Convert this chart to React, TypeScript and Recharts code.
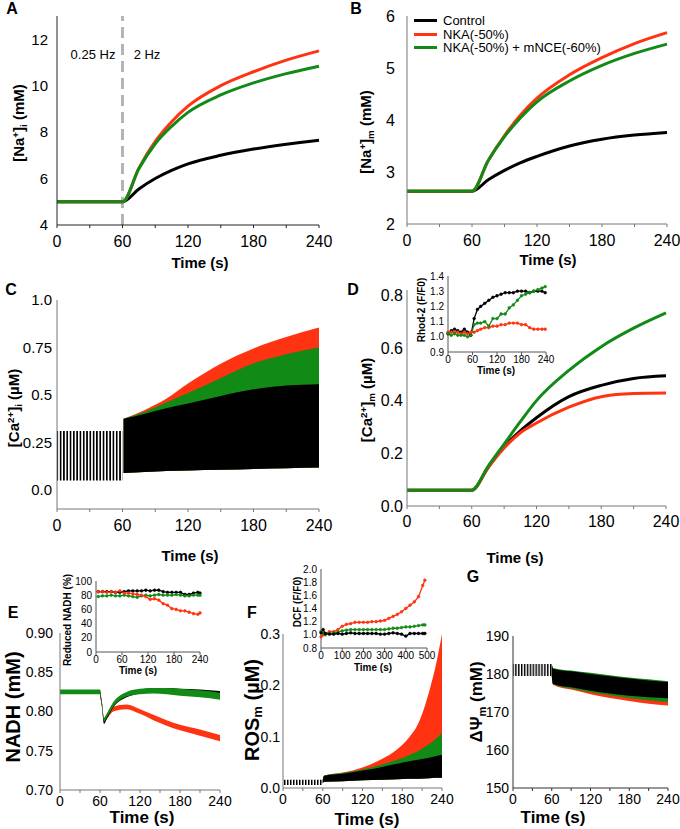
import React from 'react';
import { ComposedChart, Line, Area, XAxis, YAxis, ReferenceLine } from 'recharts';

const FONT = 'Arial, "Liberation Sans", Helvetica, sans-serif';
const BLACK = '#000000';
const RED = '#ff3311';
const GREEN = '#128a16';
const AXIS = '#777777';

// ---- A: [Na+]i ----
const naTime = [0, 60, 75, 90, 105, 120, 150, 180, 210, 240];
const naiControl = [5, 5, 5.55, 6.0, 6.35, 6.63, 7.0, 7.27, 7.48, 7.65];
const naiNka = [5, 5, 6.45, 7.6, 8.45, 9.12, 10.0, 10.6, 11.1, 11.5];
const naiNkaNce = [5, 5, 6.42, 7.5, 8.25, 8.85, 9.6, 10.12, 10.52, 10.84];

// ---- B: [Na+]m ----
const namControl = [2.63, 2.63, 2.85, 3.03, 3.18, 3.3, 3.5, 3.63, 3.71, 3.76];
const namNka = [2.63, 2.63, 3.22, 3.7, 4.1, 4.42, 4.87, 5.2, 5.47, 5.68];
const namNkaNce = [2.63, 2.63, 3.22, 3.68, 4.05, 4.35, 4.75, 5.05, 5.28, 5.46];

// ---- C: [Ca2+]i (envelopes of the beating trace) ----
const caiPreTime = [0, 60];
const caiPre: [number, number] = [0.05, 0.31];
const caiTime = [61, 80, 100, 120, 150, 180, 210, 240];
const caiBlackLo = [0.09, 0.095, 0.1, 0.103, 0.107, 0.111, 0.115, 0.118];
const caiBlackHi = [0.375, 0.4, 0.43, 0.455, 0.495, 0.53, 0.55, 0.557];
const caiGreenHi = [0.375, 0.41, 0.46, 0.51, 0.59, 0.667, 0.715, 0.75];
const caiRedHi = [0.375, 0.42, 0.48, 0.56, 0.665, 0.745, 0.805, 0.855];
const caiTicks = [0, 0.25, 0.5, 0.75, 1.0];
const caiTickLabels = ['0.0', '0.25', '0.5', '0.75', '1.0'];

// ---- D: [Ca2+]m ----
const camControl = [0.06, 0.06, 0.145, 0.225, 0.285, 0.335, 0.415, 0.458, 0.484, 0.494];
const camNka = [0.06, 0.06, 0.145, 0.22, 0.278, 0.315, 0.375, 0.415, 0.427, 0.429];
const camNkaNce = [0.06, 0.06, 0.15, 0.235, 0.32, 0.4, 0.515, 0.605, 0.675, 0.733];

// D inset: Rhod-2
const rhodTime = [0, 8, 16, 24, 32, 40, 48, 56, 64, 72, 80, 90, 100, 110, 120, 130, 140, 150, 160, 170, 180, 190, 200, 210, 220, 230, 238];
const rhodControl = [1.02, 1.04, 1.05, 1.04, 1.03, 1.05, 1.03, 1.01, 1.12, 1.18, 1.2, 1.22, 1.24, 1.26, 1.27, 1.28, 1.29, 1.29, 1.29, 1.3, 1.3, 1.3, 1.29, 1.3, 1.3, 1.3, 1.29];
const rhodNka = [1.03, 1.03, 1.03, 1.03, 1.02, 1.03, 1.02, 1.03, 1.03, 1.04, 1.05, 1.06, 1.06, 1.07, 1.07, 1.08, 1.08, 1.09, 1.09, 1.09, 1.08, 1.08, 1.06, 1.05, 1.05, 1.05, 1.05];
const rhodNkaNce = [1.02, 1.01, 1.02, 1.01, 1.01, 1.01, 1.0, 1.01, 1.08, 1.09, 1.09, 1.1, 1.07, 1.12, 1.12, 1.15, 1.15, 1.19, 1.21, 1.24, 1.27, 1.28, 1.29, 1.3, 1.31, 1.32, 1.33];

// ---- E: NADH ----
const nadhPre: [number, number] = [0.822, 0.828];
const nadhTime = [60, 63, 66, 70, 80, 100, 120, 140, 160, 180, 210, 240];
const nadhBlackLo = [0.822, 0.805, 0.784, 0.79, 0.805, 0.818, 0.823, 0.825, 0.825, 0.824, 0.823, 0.821];
const nadhBlackHi = [0.828, 0.81, 0.79, 0.796, 0.811, 0.824, 0.828, 0.83, 0.83, 0.829, 0.828, 0.826];
const nadhGreenLo = [0.822, 0.806, 0.787, 0.792, 0.806, 0.819, 0.822, 0.823, 0.822, 0.82, 0.818, 0.815];
const nadhGreenHi = [0.828, 0.811, 0.792, 0.797, 0.812, 0.825, 0.829, 0.83, 0.83, 0.829, 0.827, 0.824];
const nadhRedLo = [0.822, 0.806, 0.786, 0.79, 0.8, 0.803, 0.797, 0.789, 0.782, 0.776, 0.769, 0.762];
const nadhRedHi = [0.828, 0.811, 0.791, 0.796, 0.806, 0.809, 0.803, 0.796, 0.789, 0.783, 0.777, 0.77];

// E inset: reduced NADH (%)
const rnTime = [5, 15, 25, 35, 45, 55, 65, 75, 85, 95, 105, 115, 125, 135, 145, 155, 165, 175, 185, 195, 205, 215, 225, 235, 240];
const rnControl = [85, 85, 85, 85, 84, 84, 85, 86, 86, 86, 86, 87, 86, 87, 87, 85, 84, 84, 84, 84, 81, 81, 83, 84, 83];
const rnNka = [85, 85, 84, 85, 84, 86, 83, 83, 82, 81, 80, 78, 74, 75, 73, 68, 66, 61, 60, 58, 58, 56, 54, 53, 55];
const rnNkaNce = [78, 79, 79, 80, 79, 79, 80, 79, 78, 77, 79, 80, 79, 80, 81, 80, 80, 80, 81, 80, 79, 79, 80, 80, 80];

// ---- F: ROSm ----
const rosPre: [number, number] = [0.006, 0.016];
const rosTime = [60, 62, 90, 120, 150, 172, 190, 204, 220, 230, 240];
const rosBlackLo = [0.009, 0.012, 0.013, 0.015, 0.016, 0.017, 0.018, 0.018, 0.019, 0.02, 0.02];
const rosBlackHi = [0.016, 0.024, 0.028, 0.034, 0.041, 0.047, 0.052, 0.055, 0.059, 0.062, 0.065];
const rosGreenHi = [0.016, 0.024, 0.029, 0.036, 0.046, 0.055, 0.064, 0.072, 0.085, 0.095, 0.107];
const rosRedHi = [0.016, 0.024, 0.03, 0.04, 0.057, 0.075, 0.098, 0.125, 0.185, 0.235, 0.3];

// F inset: DCF
const dcfTime = [0, 10, 20, 40, 60, 80, 100, 120, 140, 160, 180, 200, 220, 240, 260, 280, 300, 320, 340, 360, 380, 400, 420, 440, 460, 480, 490];
const dcfControl = [1.03, 1.08, 1.02, 1.01, 1.01, 1.02, 1.01, 1.02, 1.03, 1.02, 1.02, 1.02, 1.02, 1.02, 1.02, 1.01, 1.01, 1.02, 1.03, 1.02, 1.01, 0.98, 1.02, 1.02, 1.02, 1.02, 1.02];
const dcfNka = [0.97, 1.0, 1.02, 1.05, 1.05, 1.08, 1.13, 1.16, 1.17, 1.19, 1.19, 1.19, 1.19, 1.2, 1.2, 1.21, 1.22, 1.25, 1.28, 1.31, 1.35, 1.4, 1.45, 1.5, 1.58, 1.75, 1.83];
const dcfNkaNce = [1.05, 1.03, 1.0, 1.02, 1.03, 1.04, 1.06, 1.07, 1.08, 1.08, 1.08, 1.08, 1.08, 1.08, 1.08, 1.08, 1.08, 1.09, 1.1, 1.1, 1.11, 1.12, 1.12, 1.13, 1.14, 1.15, 1.15];

// ---- G: ΔΨm ----
const psiPre: [number, number] = [179.5, 182.6];
const psiTime = [60, 62, 90, 120, 150, 180, 210, 240];
const psiBlackLo = [179.5, 177.4, 176.5, 175.6, 174.9, 174.3, 173.9, 173.6];
const psiBlackHi = [182.6, 181.4, 180.7, 180.0, 179.4, 178.8, 178.3, 177.9];
const psiGreenLo = [179.5, 177.3, 176.2, 175.2, 174.4, 173.7, 173.1, 172.6];
const psiGreenHi = [182.6, 181.6, 180.9, 180.3, 179.7, 179.1, 178.6, 178.1];
const psiRedLo = [179.5, 177.2, 175.9, 174.7, 173.7, 172.9, 172.2, 171.7];

const legendItems = [
  { name: 'Control', color: BLACK },
  { name: 'NKA(-50%)', color: RED },
  { name: 'NKA(-50%) + mNCE(-60%)', color: GREEN },
];

const timeTicks = [0, 30, 60, 90, 120, 150, 180, 210, 240];

const lineRows = (t: number[], a: number[], b: number[], c: number[]) =>
  t.map((v, i) => ({ t: v, black: a[i], red: b[i], green: c[i] }));

const preRows = (pre: [number, number]) => [0, 60].map((t) => ({ t, pre }));

const naiData = lineRows(naTime, naiControl, naiNka, naiNkaNce);
const namData = lineRows(naTime, namControl, namNka, namNkaNce);
const camData = lineRows(naTime, camControl, camNka, camNkaNce);
const rhodData = lineRows(rhodTime, rhodControl, rhodNka, rhodNkaNce);
const rnData = lineRows(rnTime, rnControl, rnNka, rnNkaNce);
const dcfData = lineRows(dcfTime, dcfControl, dcfNka, dcfNkaNce);

const caiData = [
  ...caiPreTime.map((t) => ({ t, pre: caiPre })),
  ...caiTime.map((t, i) => ({
    t,
    black: [caiBlackLo[i], caiBlackHi[i]],
    green: [caiBlackLo[i], caiGreenHi[i]],
    red: [caiBlackLo[i], caiRedHi[i]],
  })),
];

const nadhData = [
  ...preRows(nadhPre),
  ...nadhTime.map((t, i) => ({
    t,
    black: [nadhBlackLo[i], nadhBlackHi[i]],
    green: [nadhGreenLo[i], nadhGreenHi[i]],
    red: [nadhRedLo[i], nadhRedHi[i]],
  })),
];

const rosData = [
  ...preRows(rosPre),
  ...rosTime.map((t, i) => ({
    t,
    black: [rosBlackLo[i], rosBlackHi[i]],
    green: [rosBlackLo[i], rosGreenHi[i]],
    red: [rosBlackLo[i], rosRedHi[i]],
  })),
];

const psiData = [
  ...preRows(psiPre),
  ...psiTime.map((t, i) => ({
    t,
    black: [psiBlackLo[i], psiBlackHi[i]],
    green: [psiGreenLo[i], psiGreenHi[i]],
    red: [psiRedLo[i], psiBlackHi[i]],
  })),
];

const TOP = 10;
const RIGHT = 26;

type FrameProps = { x: number; y: number; w: number; h: number; yw: number; xh: number; data: any[]; right?: number; top?: number; children: React.ReactNode };

// places a chart so that its plot area lands exactly at (x, y, w, h)
function Frame({ x, y, w, h, yw, xh, data, right = RIGHT, top = TOP, children }: FrameProps) {
  return (
    <div style={{ position: 'absolute', left: x - yw, top: y - top }}>
      <ComposedChart width={w + yw + right} height={h + top + xh} data={data} margin={{ top, right, bottom: 0, left: 0 }}>
        {children}
      </ComposedChart>
    </div>
  );
}

const xAxis = (xh: number, size: number, gap: number, color: string, ticks = timeTicks, major = 60, max = 240) => (
  <XAxis
    type="number"
    dataKey="t"
    domain={[0, max]}
    ticks={ticks}
    interval={0}
    tickFormatter={(v: number) => (v % major === 0 ? String(v) : '')}
    tick={{ fill: '#000', fontSize: size, fontFamily: FONT }}
    axisLine={{ stroke: color }}
    tickLine={{ stroke: color }}
    tickSize={3}
    tickMargin={gap}
    height={xh}
  />
);

const fixed = (digits: number) => (v: number) => v.toFixed(digits);

const yAxis = (yw: number, domain: number[], ticks: number[], size: number, gap: number, color: string, fmt: (v: number) => string) => (
  <YAxis
    type="number"
    domain={domain}
    ticks={ticks}
    interval={0}
    allowDataOverflow
    tickFormatter={fmt}
    tick={{ fill: '#000', fontSize: size, fontFamily: FONT }}
    axisLine={{ stroke: color }}
    tickLine={false}
    tickSize={3}
    tickMargin={gap}
    width={yw}
  />
);

const line = (key: string, color: string, width: number, dots = false) => (
  <Line
    dataKey={key}
    stroke={color}
    strokeWidth={width}
    type={dots ? 'linear' : 'monotone'}
    dot={dots ? { r: 1.4, fill: color, stroke: color, strokeWidth: 0.5 } : false}
    activeDot={false}
    isAnimationActive={false}
  />
);

const band = (key: string, fill: string, type: 'monotone' | 'linear' = 'monotone') => (
  <Area dataKey={key} fill={fill} fillOpacity={1} stroke="none" type={type} dot={false} activeDot={false} isAnimationActive={false} />
);

const stripes = (id: string, period: number) => (
  <defs>
    <pattern id={id} width={period} height={10} patternUnits="userSpaceOnUse">
      <rect x={0} y={0} width={period * 0.5} height={10} fill="#000" />
    </pattern>
  </defs>
);

type TxtProps = { x: number; y: number; size: number; bold?: boolean; rotate?: boolean; children: React.ReactNode };

function Txt({ x, y, size, bold = true, rotate = false, children }: TxtProps) {
  return (
    <div
      style={{
        position: 'absolute',
        left: x,
        top: y,
        transform: `translate(-50%, -50%)${rotate ? ' rotate(-90deg)' : ''}`,
        whiteSpace: 'nowrap',
        fontFamily: FONT,
        fontSize: size,
        fontWeight: bold ? 700 : 400,
        lineHeight: 1,
        color: '#000',
      }}
    >
      {children}
    </div>
  );
}

const supS: React.CSSProperties = { fontSize: '0.65em', verticalAlign: '0.5em' };
const subS: React.CSSProperties = { fontSize: '0.65em', verticalAlign: '-0.3em' };

export default function App() {
  return (
    <div style={{ position: 'fixed', left: 0, top: 0, width: 680, height: 829, background: '#fff', overflow: 'hidden' }}>
      {/* A */}
      <Frame x={57} y={16} w={262} h={209} yw={50} xh={40} data={naiData}>
        {xAxis(40, 16, 8, '#222')}
        {yAxis(50, [4, 13], [4, 6, 8, 10, 12], 15, 6, '#222', fixed(0))}
        <ReferenceLine x={60} stroke="#b4b4b4" strokeWidth={3} strokeDasharray="11 6" />
        {line('black', BLACK, 3)}
        {line('red', RED, 3)}
        {line('green', GREEN, 3)}
      </Frame>

      {/* B */}
      <Frame x={407} y={16} w={260} h={208} yw={50} xh={40} data={namData}>
        {xAxis(40, 16, 8, AXIS)}
        {yAxis(50, [2, 6], [2, 3, 4, 5, 6], 16, 9, AXIS, fixed(0))}
        {line('black', BLACK, 3)}
        {line('red', RED, 3)}
        {line('green', GREEN, 3)}
      </Frame>

      {/* C */}
      <Frame x={57} y={300} w={262} h={209} yw={50} xh={40} data={caiData}>
        {stripes('stripesC', 3.3)}
        {xAxis(40, 16, 8, AXIS)}
        {yAxis(50, [-0.1, 1.0], caiTicks, 15, 2, AXIS, (v) => caiTickLabels[caiTicks.indexOf(v)] ?? String(v))}
        {band('pre', 'url(#stripesC)', 'linear')}
        {band('red', RED)}
        {band('green', GREEN)}
        {band('black', BLACK)}
      </Frame>

      {/* D */}
      <Frame x={407} y={290} w={259} h={216} yw={50} xh={40} data={camData}>
        {xAxis(40, 16, 7, AXIS)}
        {yAxis(50, [0, 0.82], [0, 0.2, 0.4, 0.6, 0.8], 16, 1, AXIS, fixed(1))}
        {line('black', BLACK, 3)}
        {line('red', RED, 3)}
        {line('green', GREEN, 3)}
      </Frame>

      {/* D inset */}
      <Frame x={448} y={276} w={98} h={76} yw={24} xh={16} right={12} top={6} data={rhodData}>
        {xAxis(16, 10, 1, '#555', [0, 60, 120, 180, 240])}
        {yAxis(24, [0.9, 1.4], [0.9, 1.0, 1.1, 1.2, 1.3, 1.4], 10, 1, '#555', fixed(1))}
        {line('black', BLACK, 1.3, true)}
        {line('red', RED, 1.3, true)}
        {line('green', GREEN, 1.3, true)}
      </Frame>

      {/* E */}
      <Frame x={60} y={633} w={160} h={157} yw={50} xh={26} data={nadhData}>
        {xAxis(26, 14, 3, AXIS)}
        {yAxis(50, [0.7, 0.9], [0.7, 0.75, 0.8, 0.85, 0.9], 14, 4, AXIS, fixed(2))}
        {band('pre', GREEN, 'linear')}
        {band('red', RED)}
        {band('black', BLACK)}
        {band('green', GREEN)}
      </Frame>

      {/* E inset */}
      <Frame x={96} y={581} w={104} h={71} yw={24} xh={16} right={12} top={6} data={rnData}>
        {xAxis(16, 10, 1, '#555', [0, 60, 120, 180, 240])}
        {yAxis(24, [0, 100], [0, 20, 40, 60, 80, 100], 10, 1, '#555', fixed(0))}
        {line('black', BLACK, 1.3, true)}
        {line('green', GREEN, 1.3, true)}
        {line('red', RED, 1.3, true)}
      </Frame>

      {/* F */}
      <Frame x={283} y={634} w={159} h={154} yw={50} xh={26} data={rosData}>
        {stripes('stripesF', 3)}
        {xAxis(26, 14, 3, AXIS)}
        {yAxis(50, [0, 0.3], [0, 0.1, 0.2, 0.3], 14, 0, AXIS, fixed(1))}
        {band('pre', 'url(#stripesF)', 'linear')}
        {band('red', RED)}
        {band('green', GREEN)}
        {band('black', BLACK)}
      </Frame>

      {/* F inset */}
      <Frame x={321} y={569} w={106} h={79} yw={24} xh={16} right={12} top={6} data={dcfData}>
        {xAxis(16, 10, 1, '#555', [0, 100, 200, 300, 400, 500], 100, 500)}
        {yAxis(24, [0.8, 2.0], [0.8, 1.0, 1.2, 1.4, 1.6, 1.8, 2.0], 10, 1, '#555', fixed(1))}
        {line('red', RED, 1.3, true)}
        {line('green', GREEN, 1.3, true)}
        {line('black', BLACK, 1.3, true)}
      </Frame>

      {/* G */}
      <Frame x={513} y={636} w={155} h={152} yw={50} xh={26} data={psiData}>
        {stripes('stripesG', 2.9)}
        {xAxis(26, 14, 3, '#333')}
        {yAxis(50, [150, 190], [150, 160, 170, 180, 190], 14, 1, '#333', fixed(0))}
        {band('pre', 'url(#stripesG)', 'linear')}
        {band('red', RED)}
        {band('green', GREEN)}
        {band('black', BLACK)}
      </Frame>

      {/* panel letters */}
      <Txt x={12} y={9} size={16}>A</Txt>
      <Txt x={356} y={9} size={16}>B</Txt>
      <Txt x={11} y={290} size={16}>C</Txt>
      <Txt x={353} y={290} size={16}>D</Txt>
      <Txt x={13} y={613} size={16}>E</Txt>
      <Txt x={252} y={613} size={16}>F</Txt>
      <Txt x={473} y={577} size={16}>G</Txt>

      {/* A annotations */}
      <Txt x={93} y={54} size={13} bold={false}>0.25 Hz</Txt>
      <Txt x={147} y={54} size={13} bold={false}>2 Hz</Txt>

      {/* B legend */}
      <div style={{ position: 'absolute', left: 414, top: 14, fontFamily: FONT, fontSize: 13 }}>
        {legendItems.map((it) => (
          <div key={it.name} style={{ display: 'flex', alignItems: 'center', height: 13.5 }}>
            <span style={{ display: 'inline-block', width: 23, height: 3, background: it.color, marginRight: 6 }} />
            <span>{it.name}</span>
          </div>
        ))}
      </div>

      {/* y-axis titles */}
      <Txt x={20} y={123} size={15} rotate>[Na<span style={supS}>+</span>]<span style={subS}>i</span> (mM)</Txt>
      <Txt x={367} y={132} size={15} rotate>[Na<span style={supS}>+</span>]<span style={subS}>m</span> (mM)</Txt>
      <Txt x={15} y={408} size={15} rotate>[Ca<span style={supS}>2+</span>]<span style={subS}>i</span> (µM)</Txt>
      <Txt x={368} y={400} size={15} rotate>[Ca<span style={supS}>2+</span>]<span style={subS}>m</span> (µM)</Txt>
      <Txt x={13} y={707} size={20} rotate>NADH (mM)</Txt>
      <Txt x={253} y={710} size={20} rotate>ROS<span style={subS}>m</span> (µM)</Txt>
      <Txt x={478} y={702} size={17} rotate>ΔΨ<span style={subS}>m</span> (mM)</Txt>
      <Txt x={422} y={310} size={10} rotate>Rhod-2 (F/F0)</Txt>
      <Txt x={68} y={620} size={10} rotate>Reduced NADH (%)</Txt>
      <Txt x={298} y={602} size={10} rotate>DCF (F/F0)</Txt>

      {/* x-axis titles */}
      <Txt x={200} y={262} size={15}>Time (s)</Txt>
      <Txt x={548} y={259} size={15}>Time (s)</Txt>
      <Txt x={190} y={555} size={15}>Time (s)</Txt>
      <Txt x={515} y={557} size={15}>Time (s)</Txt>
      <Txt x={142} y={817} size={17}>Time (s)</Txt>
      <Txt x={367} y={819} size={17}>Time (s)</Txt>
      <Txt x={553} y={817} size={17}>Time (s)</Txt>
      <Txt x={496} y={371} size={10}>Time (s)</Txt>
      <Txt x={138} y={671} size={10}>Time (s)</Txt>
      <Txt x={373} y={668} size={10}>Time (s)</Txt>
    </div>
  );
}
